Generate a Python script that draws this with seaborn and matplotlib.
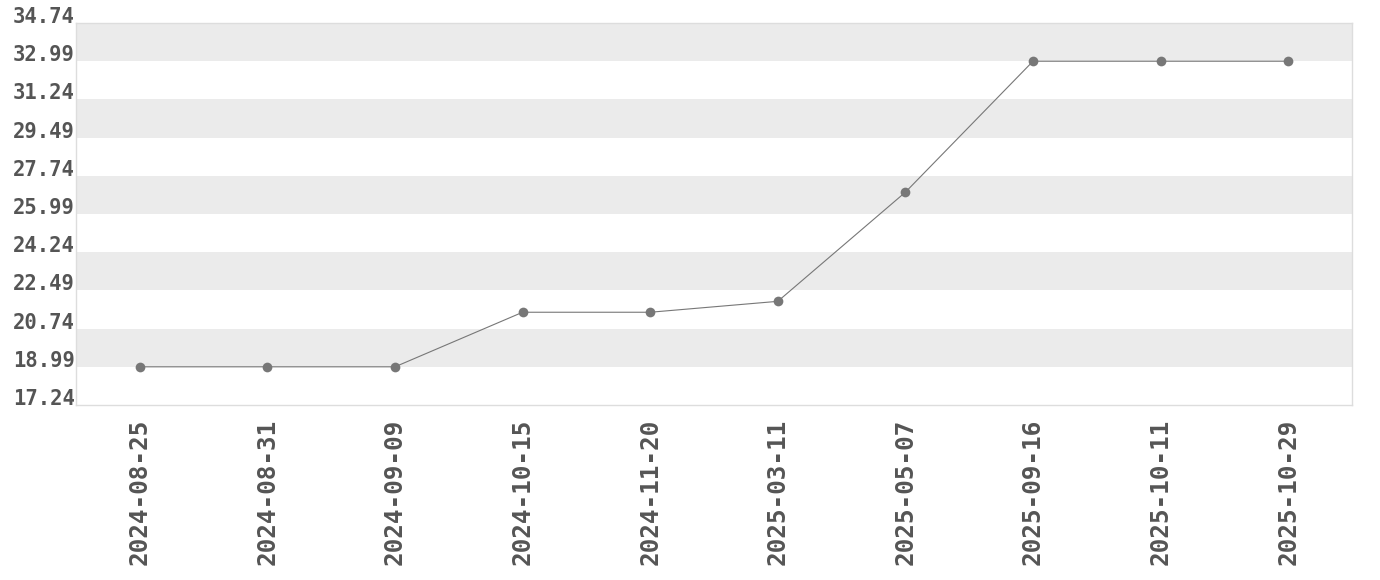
import pandas as pd
import seaborn as sns
import matplotlib.pyplot as plt

dates = ["2024-08-25", "2024-08-31", "2024-09-09", "2024-10-15", "2024-11-20",
         "2025-03-11", "2025-05-07", "2025-09-16", "2025-10-11", "2025-10-29"]
values = [18.99, 18.99, 18.99, 21.49, 21.49, 21.99, 26.99, 32.99, 32.99, 32.99]
yticks = [17.24, 18.99, 20.74, 22.49, 24.24, 25.99, 27.74, 29.49, 31.24, 32.99, 34.74]

data = pd.DataFrame({"date": dates, "value": values})

sns.set_style("white")
plt.rcParams["font.family"] = ["DejaVu Sans Mono", "DejaVu Sans"]

fig = plt.figure(figsize=(13.8, 5.8), dpi=100)
ax = fig.add_axes([0.0551, 0.3017, 0.9246, 0.6586])

# alternating bands
for i in range(1, len(yticks) - 1, 2):
    ax.axhspan(yticks[i], yticks[i + 1], color="#ebebeb", lw=0, zorder=0)

sns.lineplot(data=data, x="date", y="value", ax=ax, color="#777777", lw=0.8,
             marker="o", markersize=7, markeredgewidth=0, sort=False, zorder=3)

ax.set_xlim(-0.5, len(dates) - 0.5)
ax.set_ylim(yticks[0], yticks[-1])
ax.set_yticks(yticks)
ax.set_yticklabels([f"{t:.2f}" for t in yticks], fontsize=14.8, fontweight="bold",
                   color="#555555", va="baseline")
ax.set_xticks(range(len(dates)))
ax.set_xticklabels(dates, rotation=90, fontsize=17.6, fontweight="bold", color="#555555")
ax.tick_params(axis="y", length=0, pad=1)
ax.tick_params(axis="x", length=0, pad=10)
ax.set_xlabel("")
ax.set_ylabel("")
for s in ax.spines.values():
    s.set_color("#dddddd")
    s.set_linewidth(1)

plt.savefig("out.png")
